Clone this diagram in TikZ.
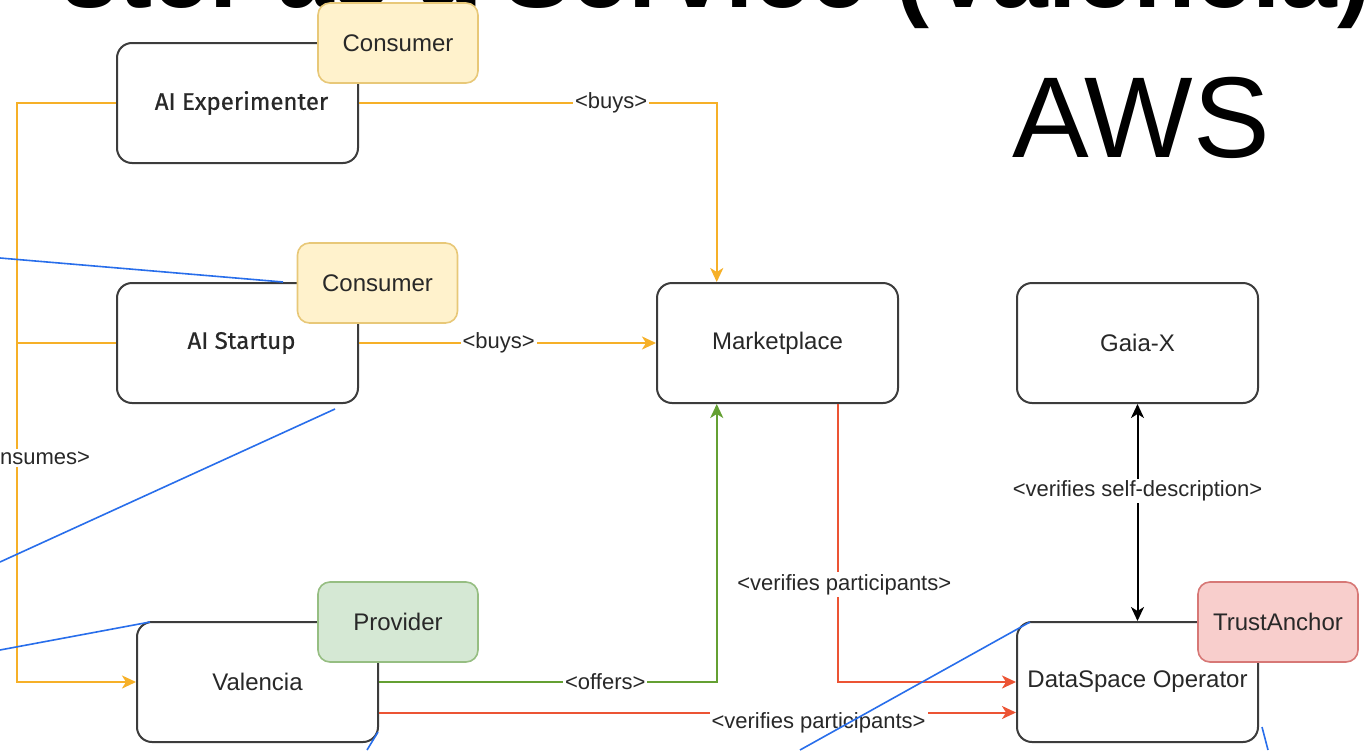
\documentclass[tikz,border=0pt]{standalone}
\usepackage{fontspec}
\setmainfont{Liberation Sans}
\newfontfamily\expfont[FakeBold=0.6]{Fira Sans}
\usetikzlibrary{arrows.meta,calc}
\definecolor{boxgray}{RGB}{60,60,60}
\definecolor{txt}{RGB}{40,40,40}
\definecolor{consF}{RGB}{255,242,204}
\definecolor{consB}{RGB}{232,200,120}
\definecolor{provF}{RGB}{213,232,212}
\definecolor{provB}{RGB}{150,190,130}
\definecolor{trustF}{RGB}{248,206,204}
\definecolor{trustB}{RGB}{215,120,118}
\definecolor{orangeL}{RGB}{246,176,40}
\definecolor{greenL}{RGB}{100,160,50}
\definecolor{redL}{RGB}{236,84,52}
\definecolor{annblue}{RGB}{40,110,235}
\tikzset{
  box/.style={draw=boxgray, line width=1pt, rounded corners=7.5pt, fill=white,
    minimum width=120.5pt, minimum height=60pt, inner sep=0pt,
    font=\fontsize{12}{14}\selectfont, text=txt},
  tagbox/.style={line width=0.8pt, rounded corners=6pt, minimum width=80pt,
    minimum height=40pt, inner sep=0pt, font=\fontsize{12}{14}\selectfont, text=txt},
  cons/.style={tagbox, draw=consB, fill=consF},
  prov/.style={tagbox, draw=provB, fill=provF},
  trust/.style={tagbox, draw=trustB, fill=trustF},
  conn/.style={line width=1pt},
  tip/.style={-{Stealth[length=7pt,width=6.5pt,inset=2pt]}},
  tips/.style={{Stealth[length=7pt,width=6.5pt,inset=2pt]}-{Stealth[length=7pt,width=6.5pt,inset=2pt]}},
  lbl/.style={fill=white, inner sep=1pt, font=\fontsize{11}{13}\selectfont, text=txt},
  annline/.style={draw=annblue, line width=0.8pt},
}
\begin{document}
\begin{tikzpicture}[x=0.5pt,y=-0.5pt]
\useasboundingbox (0,0) rectangle (1371,750);
\clip (0,0) rectangle (1371,750);
\fill[white] (0,0) rectangle (1371,750);

% title (cut off at the top)
\node[anchor=base east, inner sep=0pt, font=\fontsize{51}{51}\selectfont\bfseries] (title) at (1372,7) {ster as a Service (Valencia)};
\node[inner sep=0pt, font=\fontsize{57.5}{60}\selectfont] (aws) at (1141,117.5) {AWS};

% main boxes
\node[box] (exp) at (237.5,103) {\expfont\hspace*{4pt}AI Experimenter};
\node[box] (start) at (237.5,343) {\expfont\hspace*{4pt}AI Startup};
\node[box] (mkt) at (777.5,343) {Marketplace};
\node[box] (gaia) at (1137.5,343) {Gaia-X};
\node[box] (val) at (257.5,682) {Valencia};
\node[box] (dso) at (1137.5,682) {DataSpace Operator};

% role tags
\node[cons] (c1) at (398,43) {Consumer};
\node[cons] (c2) at (377.5,283) {Consumer};
\node[prov] (prov) at (398,622) {Provider};
\node[trust] (ta) at (1278,622) {TrustAnchor};

% helper coordinates
\coordinate (busx) at (17,0);
\coordinate (mtop) at ($(mkt.north west)!0.25!(mkt.north east)$);
\coordinate (mbl) at ($(mkt.south west)!0.25!(mkt.south east)$);
\coordinate (mbr) at ($(mkt.south west)!0.75!(mkt.south east)$);
\coordinate (vlow) at ($(val.north east)!0.75!(val.south east)$);

% orange: consumes / buys
\draw[conn, orangeL, tip] (exp.west) -- (exp.west -| busx) -- (val.west -| busx) -- (val.west);
\draw[conn, orangeL] (start.west) -- (start.west -| busx);
\node[lbl] (lcons) at (27,458) {<consumes>};
\draw[conn, orangeL, tip] (exp.east) -- node[lbl, pos=0.705] (lb1) {<buys>} (exp.east -| mtop) -- (mtop);
\draw[conn, orangeL, tip] (start.east) -- node[lbl, pos=0.47] (lb2) {<buys>} (mkt.west);

% green: offers
\draw[conn, greenL, tip] (val.east) -- node[lbl, pos=0.67] (lof) {<offers>} (val.east -| mbl) -- (mbl);

% red: verifies participants
\draw[conn, redL, tip] (mbr) -- node[lbl, pos=0.65, xshift=3pt] (lv1) {<verifies participants>} (mbr |- dso.west) -- (dso.west);
\draw[conn, redL, tip] (vlow) -- node[lbl, pos=0.69, yshift=-5pt] (lv2) {<verifies participants>} (vlow -| dso.west);

% black: self-description
\draw[conn, black, tips] (gaia.south) -- node[lbl, pos=0.4] (lsd) {<verifies self-description>} (dso.north);

% blue annotation lines
\coordinate (a1s) at (0,258);  \coordinate (a1e) at (283,282);
\coordinate (a2s) at (0,562);  \coordinate (a2e) at (335,409);
\coordinate (a3s) at (0,650);  \coordinate (a3e) at (150,622);
\coordinate (a4s) at (367,750); \coordinate (a4e) at (378,732);
\coordinate (a5s) at (800,750); \coordinate (a5e) at (1030,622);
\coordinate (a6s) at (1262,727); \coordinate (a6e) at (1268,750);
\draw[annline] (a1s) -- (a1e);
\draw[annline] (a2s) -- (a2e);
\draw[annline] (a3s) -- (a3e);
\draw[annline] (a4s) -- (a4e);
\draw[annline] (a5s) -- (a5e);
\draw[annline] (a6s) -- (a6e);
\end{tikzpicture}
\end{document}
